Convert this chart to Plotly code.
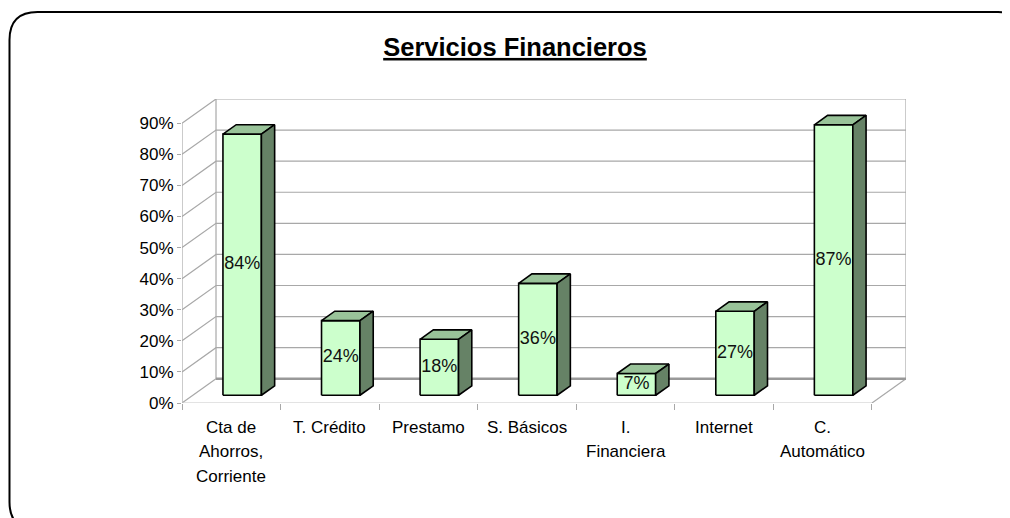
import plotly.graph_objects as go

# ---------------- data ----------------
categories = ["Cta de<br>Ahorros,<br>Corriente", "T. Crédito", "Prestamo", "S. Básicos",
              "I.<br>Financiera", "Internet", "C.<br>Automático"]
values = [84, 24, 18, 36, 7, 27, 87]
y_ticks = [0, 10, 20, 30, 40, 50, 60, 70, 80, 90]
y_tick_labels = [f"{v}%" for v in y_ticks]
title_text = "Servicios Financieros"

# ---------------- geometry / style ----------------
# page body has an 8px margin, so the figure is drawn 8px smaller and offset
OFF = 8
W, H = 1010 - OFF, 518 - OFF
ML, MR, MT, MB = 182 - OFF, W - (906 - OFF), 99 - OFF, H - (403 - OFF)
DX = 0.345      # depth offset (category units)
DY = 7.8        # depth offset (percent units)
F0 = 0.32       # bar front plane depth fraction
DEP = 0.39      # bar depth fraction
BW = 0.39       # bar width (category units)
YMAX = max(y_ticks)
N = len(categories)

FRONT = "#CCFFCC"
TOP = "#99C399"
SIDE = "#668266"
GRID = "#A8A8A8"
FONT = "Arial, Liberation Sans, sans-serif"

fig = go.Figure()

# gridlines on the back wall + left wall diagonals
gx, gy = [], []
for v in y_ticks[1:]:
    gx += [0, DX, N + DX, None]
    gy += [v, v + DY, v + DY, None]
# back wall verticals
gx += [DX, DX, None, N + DX, N + DX, None]
gy += [DY, YMAX + DY, None, DY, YMAX + DY, None]
# floor edges
gx += [0, DX, None, N, N + DX, None, 0, 0, None]
gy += [0, DY, None, 0, DY, None, 0, YMAX, None]
fig.add_trace(go.Scatter(x=gx, y=gy, mode="lines", line=dict(color=GRID, width=1.2),
                         hoverinfo="skip", showlegend=False))
# floor back edge (thicker)
fig.add_trace(go.Scatter(x=[DX, N + DX], y=[DY, DY], mode="lines",
                         line=dict(color="#999999", width=2.5), hoverinfo="skip", showlegend=False))
# floor front edge (light)
fig.add_trace(go.Scatter(x=[0, N], y=[0, 0], mode="lines",
                         line=dict(color="#C8C8C8", width=1.2), hoverinfo="skip", showlegend=False))

# bars
ddx, ddy = DEP * DX, DEP * DY
lab_x, lab_y, lab_t = [], [], []
for i, v in enumerate(values):
    x0 = i + 0.5 - BW / 2 + F0 * DX
    x1 = x0 + BW
    yb = F0 * DY
    yt = yb + v
    faces = [
        ([x0, x1, x1, x0, x0], [yb, yb, yt, yt, yb], FRONT),
        ([x0, x1, x1 + ddx, x0 + ddx, x0], [yt, yt, yt + ddy, yt + ddy, yt], TOP),
        ([x1, x1 + ddx, x1 + ddx, x1, x1], [yb, yb + ddy, yt + ddy, yt, yb], SIDE),
    ]
    for fx, fy, col in faces:
        fig.add_trace(go.Scatter(x=fx, y=fy, mode="lines", fill="toself", fillcolor=col,
                                 line=dict(color="black", width=1.6), hoverinfo="skip",
                                 showlegend=False))
    lab_x.append((x0 + x1) / 2)
    lab_y.append(yb + v / 2)
    lab_t.append(f"{v}%")

fig.add_trace(go.Scatter(x=lab_x, y=lab_y, text=lab_t, mode="text",
                         textfont=dict(family=FONT, size=18, color="#111111"),
                         hoverinfo="skip", showlegend=False))

# category labels, one annotation per line for Excel-like line spacing
for i, cat in enumerate(categories):
    for k, line in enumerate(cat.split("<br>")):
        fig.add_annotation(x=i + 0.5, y=0, xref="x", yref="y", text=line, showarrow=False,
                           xanchor="center", yanchor="middle", yshift=-(24 + 24.5 * k),
                           font=dict(family=FONT, size=17, color="black"))

# rounded frame around the chart (pixel -> paper conversion)
pw, ph = W - ML - MR, H - MT - MB


def P(px, py):
    return f"{(px - ML) / pw:.5f},{(H - MB - py) / ph:.5f}"


fl, ft, fr, fb, rad = 9.5 - OFF, 12 - OFF, 1026 - OFF, 530 - OFF, 28
path = ("M " + P(fl + rad, ft) + " L " + P(fr - rad, ft) + " Q " + P(fr, ft) + " " + P(fr, ft + rad)
        + " L " + P(fr, fb - rad) + " Q " + P(fr, fb) + " " + P(fr - rad, fb)
        + " L " + P(fl + rad, fb) + " Q " + P(fl, fb) + " " + P(fl, fb - rad)
        + " L " + P(fl, ft + rad) + " Q " + P(fl, ft) + " " + P(fl + rad, ft) + " Z")
fig.add_shape(type="path", path=path, xref="paper", yref="paper",
              line=dict(color="black", width=2), layer="below")

fig.update_layout(
    width=W, height=H,
    margin=dict(l=ML, r=MR, t=MT, b=MB, pad=0),
    paper_bgcolor="white", plot_bgcolor="white",
    title=dict(text=f"<u><b>{title_text}</b></u>", x=(515 - OFF) / W, xanchor="center",
               y=1 - (47 - OFF) / H, yanchor="middle", yref="container",
               font=dict(family=FONT, size=25.5, color="black")),
    xaxis=dict(range=[0, N + DX], showgrid=False, zeroline=False, showline=False,
               tickmode="array", tickvals=list(range(N + 1)), showticklabels=False,
               ticks="outside", ticklen=6, tickcolor=GRID, tickwidth=1.2,
               automargin=False, fixedrange=True),
    yaxis=dict(range=[0, YMAX + DY], showgrid=False, zeroline=False, showline=False,
               tickmode="array", tickvals=y_ticks, ticktext=y_tick_labels,
               ticks="outside", ticklen=4, tickcolor=GRID, tickwidth=1.2,
               tickfont=dict(family=FONT, size=17, color="black"),
               automargin=False, fixedrange=True),
    showlegend=False,
)

fig.write_html("out.html")
